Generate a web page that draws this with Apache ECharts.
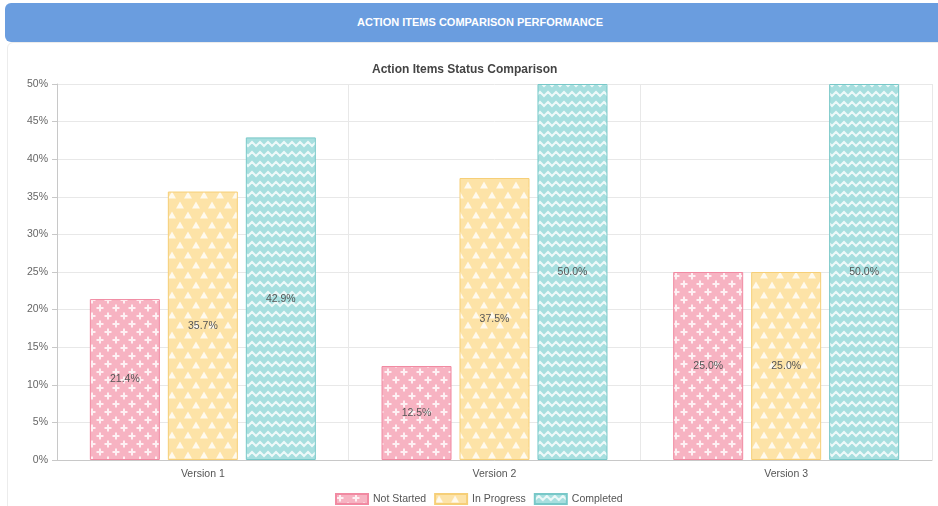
<!DOCTYPE html>
<html>
<head>
<meta charset="utf-8">
<script src="https://cdn.jsdelivr.net/npm/echarts@6/dist/echarts.min.js"></script>
<style>
  html, body { margin: 0; padding: 0; background: #fff; }
  .page { position: relative; width: 938px; height: 506px; overflow: hidden; font-family: "Liberation Sans", Arial, sans-serif; }
  .header {
    position: absolute; left: 5px; top: 3px; width: 960px; height: 39px;
    background: #6a9ddf; border-radius: 6px;
    color: #fff; font-size: 11px; font-weight: bold; line-height: 39px;
    text-align: left; text-indent: 352px;
  }
  .card {
    position: absolute; left: 7px; top: 42px; width: 960px; height: 480px;
    border: 1px solid #ececec; border-radius: 6px; background: #fff;
  }
  .com-chart { position: absolute; left: 0; top: 0; width: 938px; height: 506px; }
</style>
</head>
<body>
<div class="page">
  <div class="card"></div>
  <div class="header">ACTION ITEMS COMPARISON PERFORMANCE</div>
  <div class="com-chart" id="L1"></div>
</div>
<script>
// 图表数据
const categories = ['Version 1', 'Version 2', 'Version 3'];
const notStarted = [21.4, 12.5, 25.0];
const inProgress = [35.7, 37.5, 25.0];
const completed = [42.9, 50.0, 50.0];
const yTicks = [0, 5, 10, 15, 20, 25, 30, 35, 40, 45, 50];

// 生成图案填充
function makePattern(kind, bg) {
  const c = document.createElement('canvas');
  let w = 16, h = 16;
  if (kind === 'tri') { w = 16; h = 20; }
  if (kind === 'zig') { w = 8; h = 10; }
  c.width = w; c.height = h;
  const ctx = c.getContext('2d');
  ctx.fillStyle = bg;
  ctx.fillRect(0, 0, w, h);
  ctx.strokeStyle = 'rgba(255,255,255,0.8)';
  ctx.fillStyle = 'rgba(255,255,255,0.8)';
  ctx.lineWidth = 2;
  if (kind === 'plus') {
    [[4, 4], [12, 12]].forEach(function (p) {
      ctx.beginPath();
      ctx.moveTo(p[0] - 3.5, p[1]); ctx.lineTo(p[0] + 3.5, p[1]);
      ctx.moveTo(p[0], p[1] - 3.5); ctx.lineTo(p[0], p[1] + 3.5);
      ctx.stroke();
    });
  } else if (kind === 'tri') {
    [[4, 5], [12, 15]].forEach(function (p) {
      ctx.beginPath();
      ctx.moveTo(p[0], p[1] - 3.5);
      ctx.lineTo(p[0] + 4, p[1] + 3.5);
      ctx.lineTo(p[0] - 4, p[1] + 3.5);
      ctx.closePath();
      ctx.fill();
    });
  } else {
    ctx.beginPath();
    ctx.moveTo(-4, 2); ctx.lineTo(0, 6); ctx.lineTo(4, 2); ctx.lineTo(8, 6); ctx.lineTo(12, 2);
    ctx.stroke();
  }
  return { image: c, repeat: 'repeat' };
}

const chartInstance = echarts.init(document.getElementById('L1'));

function barSeries(name, data, kind, bg, border) {
  return {
    name: name,
    type: 'bar',
    data: data,
    barWidth: 70,
    barGap: '11.4%',
    itemStyle: {
      color: makePattern(kind, bg),
      borderColor: border,
      borderWidth: 1
    },
    label: {
      show: true,
      position: 'inside',
      color: '#555',
      fontSize: 10.5,
      fontFamily: 'Liberation Sans',
      formatter: function (p) { return p.value.toFixed(1) + '%'; }
    }
  };
}

const initOption = {
  animation: false,
  title: {
    text: 'Action Items Status Comparison',
    left: 367,
    top: 59,
    textStyle: { fontSize: 12, fontWeight: 'bold', color: '#444', fontFamily: 'Liberation Sans' }
  },
  legend: {
    left: 330,
    top: 488,
    itemWidth: 32,
    itemHeight: 10,
    itemGap: 8,
    icon: 'rect',
    textStyle: { fontSize: 10.5, color: '#555', fontFamily: 'Liberation Sans' },
    data: ['Not Started', 'In Progress', 'Completed']
  },
  grid: { left: 57, right: 6, top: 84, bottom: 46 },
  xAxis: {
    type: 'category',
    data: categories,
    axisLine: { lineStyle: { color: '#c8c8c8' } },
    axisTick: { length: 6, lineStyle: { color: '#c8c8c8' } },
    axisLabel: { color: '#555', fontSize: 10.5, margin: 9, fontFamily: 'Liberation Sans' },
    splitLine: { show: true, lineStyle: { color: '#e8e8e8' } }
  },
  yAxis: {
    type: 'value',
    min: yTicks[0],
    max: yTicks[yTicks.length - 1],
    interval: 5,
    axisLine: { show: true, lineStyle: { color: '#c8c8c8' } },
    axisTick: { show: true, length: 5, lineStyle: { color: '#c8c8c8' } },
    axisLabel: { color: '#666', fontSize: 10.5, margin: 9, formatter: '{value}%', fontFamily: 'Liberation Sans' },
    splitLine: { lineStyle: { color: '#e8e8e8' } }
  },
  series: [
    barSeries('Not Started', notStarted, 'plus', '#f7b3c2', '#f18aa2'),
    barSeries('In Progress', inProgress, 'tri', '#fde3a7', '#f6cf78'),
    barSeries('Completed', completed, 'zig', '#a7dfdf', '#78c8c8')
  ]
};
chartInstance.setOption(initOption);
</script>
</body>
</html>
